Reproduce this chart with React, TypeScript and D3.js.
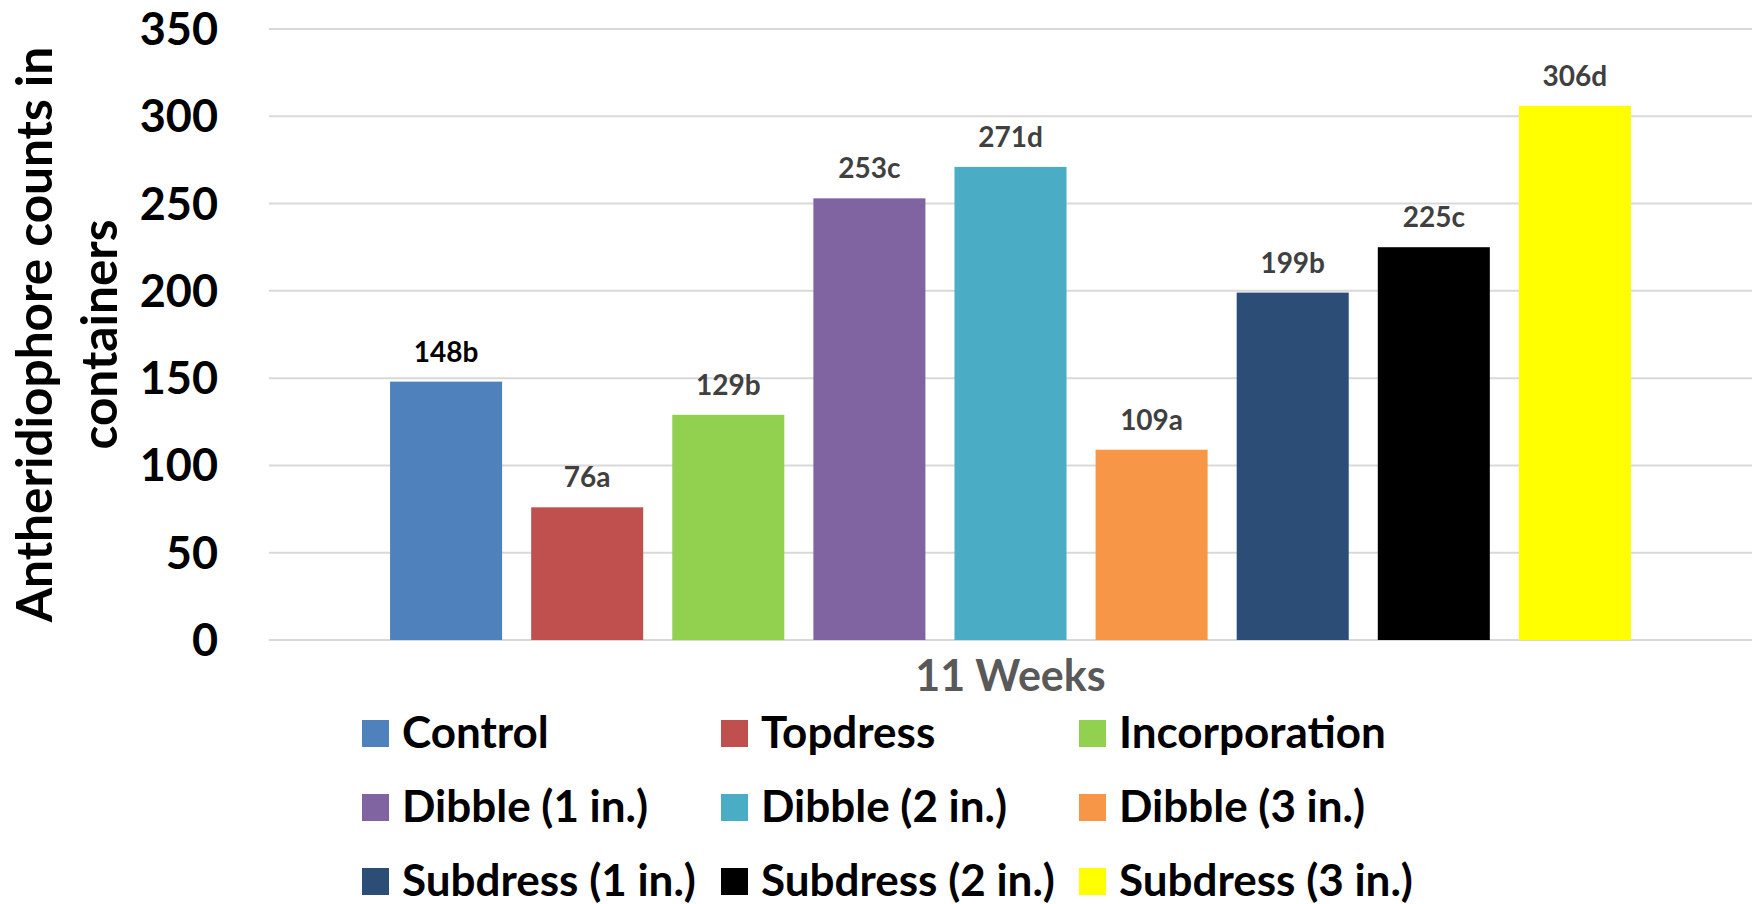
import React from "react";
import * as d3 from "d3";

// Treatments, in drawing order
const treatments = [
  "Control",
  "Topdress",
  "Incorporation",
  "Dibble (1 in.)",
  "Dibble (2 in.)",
  "Dibble (3 in.)",
  "Subdress (1 in.)",
  "Subdress (2 in.)",
  "Subdress (3 in.)",
];

// Antheridiophore counts at 11 weeks
const counts = [148, 76, 129, 253, 271, 109, 199, 225, 306];

// Mean-separation letters
const letters = ["b", "a", "b", "c", "d", "a", "b", "c", "d"];

const colors = [
  "#4F81BD",
  "#C0504D",
  "#92D050",
  "#8064A2",
  "#4BACC6",
  "#F79646",
  "#2C4D75",
  "#000000",
  "#FFFF00",
];

const yTicks = [0, 50, 100, 150, 200, 250, 300, 350];
const categoryLabel = "11 Weeks";
const yTitleLines = ["Antheridiophore counts in", "containers"];

const W = 1758;
const H = 904;
const FONT = "Lato, 'Open Sans', sans-serif";

export default function App() {
  const plotLeft = 269;
  const plotRight = 1752;
  const plotTop = 29;
  const plotBottom = 640;

  const y = d3.scaleLinear().domain([0, 350]).range([plotBottom, plotTop]);
  const x = d3
    .scaleBand<string>()
    .domain(treatments)
    .range([plotLeft, plotRight])
    .paddingInner(0.206)
    .paddingOuter(0.858);

  const midY = (plotTop + plotBottom) / 2;

  // legend grid
  const legendCols = [362, 721, 1079];
  const legendRows = [720, 794, 868];
  const sw = 27;

  return (
    <svg
      width={W}
      height={H}
      style={{ position: "absolute", left: 0, top: 0, background: "#fff" }}
      fontFamily={FONT}
      fontWeight="bold"
    >
      <rect x={0} y={0} width={W} height={H} fill="#fff" />

      {/* gridlines */}
      {yTicks.map((t) => (
        <line
          key={"g" + t}
          x1={plotLeft}
          x2={plotRight}
          y1={y(t)}
          y2={y(t)}
          stroke="#D9D9D9"
          strokeWidth={2}
        />
      ))}

      {/* y tick labels */}
      {yTicks.map((t) => (
        <text
          key={"t" + t}
          x={218}
          y={y(t) + 16}
          textAnchor="end"
          fontSize={45}
          fill="#000"
        >
          {t}
        </text>
      ))}

      {/* y axis title */}
      {yTitleLines.map((line, i) => (
        <text
          key={"yt" + i}
          transform={`translate(${52 + i * 65},${midY}) rotate(-90)`}
          textAnchor="middle"
          fontSize={49.5}
          fill="#000"
        >
          {line}
        </text>
      ))}

      {/* bars */}
      {treatments.map((tr, i) => (
        <rect
          key={"b" + tr}
          x={x(tr)}
          y={y(counts[i])}
          width={x.bandwidth()}
          height={y(0) - y(counts[i])}
          fill={colors[i]}
        />
      ))}

      {/* value labels */}
      {treatments.map((tr, i) => (
        <text
          key={"l" + tr}
          x={(x(tr) as number) + x.bandwidth() / 2}
          y={y(counts[i]) - 20}
          textAnchor="middle"
          fontSize={28}
          fill={i === 0 ? "#000" : "#404040"}
        >
          {counts[i] + letters[i]}
        </text>
      ))}

      {/* category label */}
      <text
        x={(plotLeft + plotRight) / 2}
        y={691}
        textAnchor="middle"
        fontSize={43}
        fill="#595959"
      >
        {categoryLabel}
      </text>

      {/* legend */}
      {treatments.map((tr, i) => {
        const cx = legendCols[i % 3];
        const cy = legendRows[Math.floor(i / 3)];
        return (
          <g key={"lg" + tr}>
            <rect x={cx} y={cy} width={sw} height={sw} fill={colors[i]} />
            <text x={cx + 40} y={cy + 28} fontSize={44} fill="#000">
              {tr}
            </text>
          </g>
        );
      })}
    </svg>
  );
}
